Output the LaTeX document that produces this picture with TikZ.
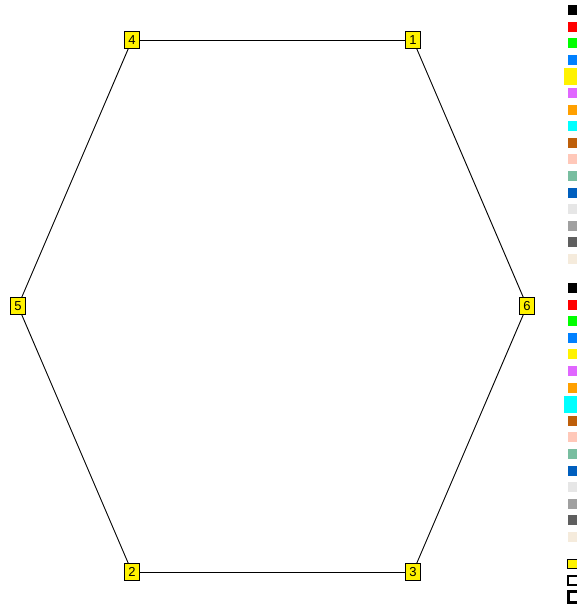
\documentclass[tikz,border=0pt]{standalone}
\usepackage{fontspec}
\setmainfont{Liberation Sans}
\usepackage{tikz}
\usetikzlibrary{positioning,calc}

\definecolor{swBlue}{RGB}{0,128,255}
\definecolor{swCyan}{RGB}{0,255,255}
\definecolor{swMagenta}{RGB}{224,102,255}
\definecolor{swOrange}{RGB}{255,160,0}
\definecolor{swBrown}{RGB}{190,95,10}
\definecolor{swPink}{RGB}{255,200,185}
\definecolor{swTeal}{RGB}{120,190,160}
\definecolor{swDarkBlue}{RGB}{0,95,190}
\definecolor{swLight}{RGB}{230,230,230}
\definecolor{swGray}{RGB}{160,160,160}
\definecolor{swDark}{RGB}{95,95,95}
\definecolor{swBeige}{RGB}{245,235,220}

\tikzset{
  vertex/.style={draw=black, fill=yellow, line width=0.8pt, inner sep=0pt,
    minimum width=15pt, minimum height=17pt, font=\fontsize{13}{13}\selectfont},
  edge/.style={black, line width=0.9pt},
  swatch/.style={minimum width=9pt, minimum height=10pt, inner sep=0pt, anchor=west}
}

\begin{document}
\begin{tikzpicture}[x=1pt, y=-1pt]
    \useasboundingbox (0,0) rectangle (576,609);

    % The hexagon vertices
    \node[vertex] (v1) at (413,40) {1};
    \node[vertex] (v4) at (132,40) {4};
    \node[vertex] (v5) at (18,306) {5};
    \node[vertex] (v6) at (527,306) {6};
    \node[vertex] (v2) at (132,572) {2};
    \node[vertex] (v3) at (413,572) {3};

    % Edges
    \draw[edge] (v1) -- (v4);
    \draw[edge] (v4) -- (v5);
    \draw[edge] (v5) -- (v2);
    \draw[edge] (v2) -- (v3);
    \draw[edge] (v3) -- (v6);
    \draw[edge] (v6) -- (v1);

    % Colour legend, first column
    \foreach \c [count=\i from 0] in {black,red,green,swBlue,yellow,swMagenta,swOrange,swCyan,
        swBrown,swPink,swTeal,swDarkBlue,swLight,swGray,swDark,swBeige} {
      \node[swatch, fill=\c] (a\i) at (568,{10+16.6*\i}) {};
    }
    \node[swatch, fill=yellow, minimum width=13pt, minimum height=17pt] (abig) at (564,76.4) {};

    % Colour legend, second column
    \foreach \c [count=\i from 0] in {black,red,green,swBlue,yellow,swMagenta,swOrange,swCyan,
        swBrown,swPink,swTeal,swDarkBlue,swLight,swGray,swDark,swBeige} {
      \node[swatch, fill=\c] (b\i) at (568,{288+16.6*\i}) {};
    }
    \node[swatch, fill=swCyan, minimum width=13pt, minimum height=17pt] (bbig) at (564,404.2) {};

    % Box styles
    \node[swatch, draw=black, fill=yellow, line width=1.4pt, minimum width=11pt, minimum height=9pt] (s1) at (566.5,564) {};
    \node[swatch, draw=black, fill=white, line width=2pt, minimum width=11pt, minimum height=9pt] (s2) at (566.5,580) {};
    \node[swatch, draw=black, fill=white, line width=3.2pt, minimum width=11pt, minimum height=11pt] (s3) at (567,597) {};
\end{tikzpicture}
\end{document}
